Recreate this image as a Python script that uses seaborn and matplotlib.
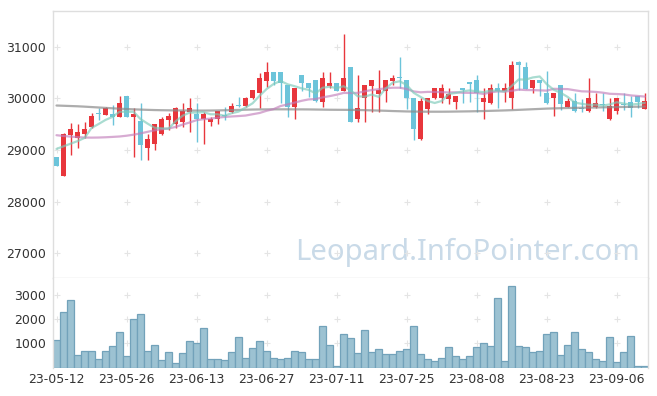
import seaborn as sns
import matplotlib.pyplot as plt
import numpy as np
import pandas as pd

# daily OHLC (red = up, blue = down)
opens = [28860, 28500, 29290, 29240, 29300, 29450, 29695, 29685, 29695, 29645,
         30045, 29645, 29565, 29045, 29105, 29300, 29580, 29495, 29550, 29740,
         29695, 29595, 29550, 29595, 29665, 29740, 29855, 29850, 30000, 30095,
         30340, 30500, 30500, 30255, 29840, 30450, 30300, 30355, 29935, 30240,
         30300, 30150, 30610, 29595, 30000, 30240, 30085, 30140, 30340, 30390,
         30355, 30000, 29205, 29800, 30000, 30000, 29980, 29930, 30170, 30290,
         30355, 29935, 29900, 30195, 30135, 30000, 30710, 30610, 30195, 30355,
         30100, 30000, 30255, 29840, 29950, 29790, 29745, 29840, 29875, 29590,
         29745, 29870, 29935, 30045, 29790]
highs = [28870, 29320, 29515, 29500, 29545, 29720, 29805, 29840, 29870, 30045,
         30050, 29805, 29915, 29310, 29505, 29640, 29710, 29840, 29905, 30000,
         29905, 29740, 29645, 29755, 29840, 29915, 30020, 30020, 30165, 30495,
         30695, 30505, 30505, 30260, 30205, 30455, 30305, 30360, 30500, 30510,
         30305, 31240, 30615, 30450, 30260, 30360, 30550, 30360, 30450, 30790,
         30360, 30005, 30000, 30005, 30200, 30280, 30200, 30045, 30195, 30305,
         30450, 30195, 30275, 30290, 30290, 30730, 30715, 30710, 30360, 30360,
         30535, 30105, 30260, 30000, 30100, 29995, 30385, 30095, 30095, 30000,
         30005, 30095, 30050, 30050, 30095]
lows = [28680, 28490, 28900, 29030, 29225, 29420, 29580, 29670, 29485, 29640,
        29640, 28870, 28805, 28805, 29000, 29290, 29385, 29420, 29450, 29355,
        29160, 29115, 29470, 29495, 29580, 29720, 29840, 29840, 29995, 29805,
        30225, 30255, 29900, 29645, 29595, 30140, 30030, 29930, 29830, 30195,
        30145, 30145, 29540, 29545, 29550, 29740, 29740, 29920, 30250, 30200,
        29800, 29200, 29200, 29690, 29995, 29910, 29880, 29790, 29905, 29935,
        29740, 29595, 29895, 29805, 29935, 29790, 30160, 30175, 30095, 30045,
        29895, 29655, 29780, 29835, 29740, 29740, 29740, 29810, 29745, 29585,
        29690, 29780, 29645, 29805, 29785]
closes = [28690, 29310, 29405, 29350, 29405, 29655, 29690, 29805, 29645, 29905,
          29645, 29695, 29095, 29210, 29500, 29595, 29655, 29805, 29755, 29805,
          29595, 29695, 29600, 29755, 29655, 29850, 29850, 30000, 30160, 30385,
          30500, 30340, 30290, 29840, 30200, 30290, 30195, 29950, 30385, 30300,
          30150, 30385, 29545, 29820, 30255, 30355, 30160, 30355, 30390, 30385,
          30000, 29400, 29950, 30000, 30195, 30195, 30080, 30040, 30165, 30285,
          30095, 30010, 30195, 30150, 30195, 30645, 30640, 30180, 30355, 30290,
          29900, 30100, 29880, 29955, 29745, 29785, 30000, 29900, 29870, 29850,
          30000, 29865, 29805, 29935, 29955]
volumes = [1120, 2280, 2770, 500, 700, 660, 370, 660, 870, 1450,
           455, 1990, 2190, 700, 910, 290, 620, 165, 580, 1075,
           990, 1610, 330, 330, 290, 620, 1240, 410, 790, 1075,
           660, 410, 370, 410, 660, 620, 370, 330, 1700, 910,
           70, 1400, 1200, 580, 1530, 620, 745, 540, 540, 700,
           745, 1700, 540, 370, 250, 410, 830, 455, 330, 455,
           830, 990, 870, 2855, 250, 3350, 870, 830, 620, 700,
           1365, 1450, 500, 910, 1450, 745, 620, 330, 250, 1240,
           210, 620, 1280, 80, 80]
# moving-average values before enough in-window data
ma5_head = [29020, 29070, 29120, 29170]
ma20_head = [29285, 29270, 29258, 29248, 29240, 29238, 29240, 29245, 29252, 29260,
             29275, 29295, 29320, 29350, 29380, 29400, 29415, 29445, 29490]
ma_long = [29860, 29855, 29850, 29845, 29838, 29830, 29822, 29814, 29806, 29798,
           29792, 29786, 29781, 29776, 29772, 29769, 29767, 29765, 29764, 29763,
           29762, 29762, 29763, 29765, 29768, 29771, 29775, 29779, 29782, 29784,
           29785, 29786, 29786, 29786, 29785, 29785, 29784, 29782, 29780, 29778,
           29777, 29776, 29775, 29773, 29770, 29766, 29762, 29758, 29753, 29749,
           29745, 29743, 29741, 29740, 29740, 29740, 29741, 29743, 29745, 29747,
           29750, 29753, 29757, 29761, 29765, 29770, 29776, 29782, 29788, 29794,
           29800, 29804, 29808, 29811, 29814, 29817, 29820, 29822, 29825, 29827,
           29830, 29832, 29835, 29837, 29840]
date_labels = ['23-05-12', '23-05-26', '23-06-13', '23-06-27', '23-07-11',
               '23-07-25', '23-08-08', '23-08-23', '23-09-06']
price_ticks = [27000, 28000, 29000, 30000, 31000]
vol_ticks = [1000, 2000, 3000]

c_up = '#e8363c'
c_down = '#6cc4da'

df = pd.DataFrame({'open': opens, 'high': highs, 'low': lows,
                   'close': closes, 'volume': volumes})
df['idx'] = np.arange(len(df))
df['ma5'] = df['close'].rolling(5).mean()
df.loc[:3, 'ma5'] = ma5_head
df['ma20'] = df['close'].rolling(20).mean()
df.loc[:18, 'ma20'] = ma20_head
df['ma_long'] = ma_long
df['up'] = df['close'] >= df['open']
tick_pos = df['idx'].values[::10]

sns.set_style('white')
plt.rcParams['font.family'] = ['DejaVu Sans']

fig = plt.figure(figsize=(6.57, 3.96), dpi=100)
ax_p = fig.add_axes([53 / 657, 1 - 278 / 396, 595.3 / 657, 267 / 396])
ax_v = fig.add_axes([53 / 657, 1 - 367.5 / 396, 595.3 / 657, 89.5 / 396])

# price panel
cols = np.where(df['up'], c_up, c_down)
ax_p.vlines(df['idx'], df['low'], df['high'], colors=cols, lw=1, zorder=3)
body = np.maximum((df['close'] - df['open']).abs(), 25)
ax_p.bar(df['idx'], body, bottom=np.minimum(df['open'], df['close']),
         width=0.66, color=cols, lw=0, zorder=3)
sns.lineplot(data=df, x='idx', y='ma_long', ax=ax_p, color='#8a8a8a', lw=1.6, alpha=0.7, zorder=4)
sns.lineplot(data=df, x='idx', y='ma20', ax=ax_p, color='#c27fbb', lw=1.6, alpha=0.65, zorder=4)
sns.lineplot(data=df, x='idx', y='ma5', ax=ax_p, color='#7ccab9', lw=1.6, alpha=0.65, zorder=4)
ax_p.set_ylim(26520, 31690)
ax_p.set_xlim(-0.5, 84.5)
ax_p.set_yticks(price_ticks)
ax_p.set_xticks(tick_pos)
ax_p.set_xticklabels([])
gx, gy = np.meshgrid(ax_p.get_xticks(), ax_p.get_yticks())
ax_p.scatter(gx.ravel(), gy.ravel(), marker='+', s=20, c='#e4e4e4', lw=0.8, zorder=1)
ax_p.text(0.697, 0.094, 'Leopard.InfoPointer.com', transform=ax_p.transAxes,
          ha='center', va='center', fontsize=21, color='#c9dae8',
          family=['Noto Sans', 'DejaVu Sans'], zorder=0)

# volume panel
sns.barplot(data=df, x='idx', y='volume', ax=ax_v, native_scale=True, width=1.0,
            color='#9cc2d2', edgecolor='#72a2ba', linewidth=0.9, saturation=1)
ax_v.set_xlim(-0.5, 84.5)
ax_v.set_ylim(0, 3690)
ax_v.set_yticks(vol_ticks)
ax_v.set_xticks(tick_pos)
ax_v.set_xticklabels(date_labels)
gx, gy = np.meshgrid(ax_v.get_xticks(), ax_v.get_yticks())
ax_v.scatter(gx.ravel(), gy.ravel(), marker='+', s=20, c='#e4e4e4', lw=0.8, zorder=0)
ax_v.set_xlabel('')
ax_v.set_ylabel('')
ax_p.set_xlabel('')
ax_p.set_ylabel('')

for ax in (ax_p, ax_v):
    ax.tick_params(length=0, labelsize=9, labelcolor='#333333', pad=5)
    for s in ax.spines.values():
        s.set_color('#dedede')
        s.set_linewidth(1)
ax_v.spines['bottom'].set_visible(False)
ax_v.spines['top'].set_visible(False)
ax_v.tick_params(axis='x', pad=4)

fig.savefig('out.png', dpi=100)
